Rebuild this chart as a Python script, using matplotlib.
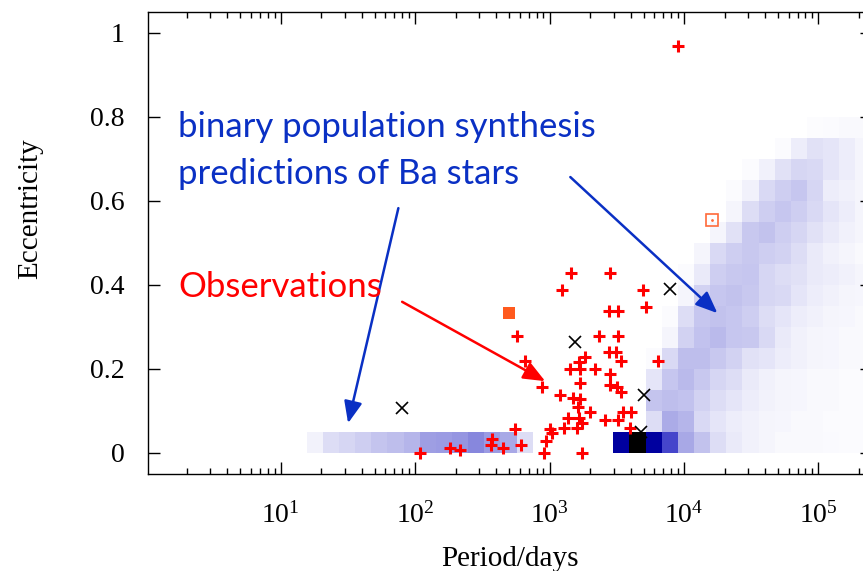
import numpy as np
import matplotlib
matplotlib.use("Agg")
import matplotlib.pyplot as plt
from matplotlib.colors import LinearSegmentedColormap

plt.rcParams['font.family'] = 'serif'
plt.rcParams['font.serif'] = ['Liberation Serif', 'DejaVu Serif']
plt.rcParams['mathtext.fontset'] = 'custom'
plt.rcParams['mathtext.rm'] = 'Liberation Serif'
plt.rcParams['mathtext.it'] = 'Liberation Serif:italic'

# population synthesis grid: log10(P) bins of 0.12 dex starting at 1.194, e bins of 0.05
logp_start = 1.194
logp_step = 0.12
n_logp = 35
ecc_edges = np.linspace(0.0, 0.8, 17)

# bottom row, short periods (bins 0..13)
left_strip = [0.06, 0.16, 0.19, 0.23, 0.27, 0.30, 0.34, 0.43, 0.44, 0.46, 0.50, 0.44, 0.40, 0.16]

# long period block (bins 19..34), rows from e=0 upwards
right_block = [
    [0.85, 1.00, 0.85, 0.70, 0.40, 0.285, 0.16, 0.10, 0.07, 0.05, 0.03, 0.03, 0.03, 0.025, 0.02, 0.02],
    [0, 0, 0.16, 0.39, 0.34, 0.175, 0.12, 0.083, 0.07, 0.05, 0.04, 0.03, 0.03, 0.02, 0.02, 0.02],
    [0, 0, 0.27, 0.30, 0.28, 0.21, 0.16, 0.12, 0.083, 0.06, 0.05, 0.04, 0.03, 0.03, 0.02, 0.02],
    [0, 0, 0.12, 0.265, 0.32, 0.25, 0.19, 0.16, 0.10, 0.07, 0.05, 0.04, 0.03, 0.03, 0.02, 0.02],
    [0, 0, 0.023, 0.175, 0.30, 0.30, 0.25, 0.21, 0.14, 0.12, 0.083, 0.07, 0.05, 0.04, 0.03, 0.03],
    [0, 0, 0, 0.05, 0.21, 0.28, 0.32, 0.265, 0.25, 0.175, 0.10, 0.07, 0.05, 0.04, 0.03, 0.03],
    [0, 0, 0, 0.023, 0.16, 0.265, 0.285, 0.265, 0.23, 0.16, 0.12, 0.083, 0.07, 0.05, 0.04, 0.03],
    [0, 0, 0, 0, 0.05, 0.21, 0.265, 0.285, 0.25, 0.19, 0.175, 0.12, 0.083, 0.07, 0.05, 0.04],
    [0, 0, 0, 0, 0.023, 0.10, 0.23, 0.25, 0.265, 0.19, 0.16, 0.14, 0.10, 0.083, 0.07, 0.05],
    [0, 0, 0, 0, 0, 0.05, 0.175, 0.23, 0.25, 0.23, 0.21, 0.16, 0.10, 0.07, 0.05, 0.03],
    [0, 0, 0, 0, 0, 0, 0.05, 0.14, 0.25, 0.285, 0.23, 0.19, 0.14, 0.10, 0.07, 0.05],
    [0, 0, 0, 0, 0, 0, 0, 0.05, 0.16, 0.23, 0.265, 0.23, 0.175, 0.12, 0.083, 0.05],
    [0, 0, 0, 0, 0, 0, 0, 0.023, 0.07, 0.175, 0.23, 0.265, 0.19, 0.083, 0.07, 0.05],
    [0, 0, 0, 0, 0, 0, 0, 0, 0.023, 0.07, 0.14, 0.19, 0.175, 0.12, 0.083, 0.05],
    [0, 0, 0, 0, 0, 0, 0, 0, 0, 0, 0.023, 0.083, 0.14, 0.12, 0.083, 0.05],
    [0, 0, 0, 0, 0, 0, 0, 0, 0, 0, 0, 0, 0.015, 0.023, 0.03, 0.03],
]
right_first_bin = 19

# observed Ba stars (period in days, eccentricity)
obs_period = [109, 182, 216, 373, 368, 450, 549, 615, 572, 659, 878, 902, 945, 1000,
              1042, 1202, 1237, 1271, 1361, 1426, 1452, 1494, 1600, 1630, 1644, 1644,
              1674, 1693, 1693, 1742, 1742, 1845, 1986, 2190, 2345, 2600, 2750, 2750,
              2832, 2832, 2832, 3140, 3177, 3210, 3210, 3210, 3400, 3400, 3520, 3990,
              4040, 4930, 5250, 6410, 8980]
obs_ecc = [0.0, 0.013, 0.007, 0.033, 0.019, 0.011, 0.058, 0.019, 0.279, 0.219, 0.158,
           0.0, 0.029, 0.058, 0.048, 0.138, 0.388, 0.059, 0.083, 0.199, 0.428, 0.130,
           0.059, 0.110, 0.083, 0.217, 0.128, 0.199, 0.167, 0.071, 0.0, 0.228, 0.098,
           0.199, 0.279, 0.079, 0.338, 0.240, 0.428, 0.188, 0.162, 0.240, 0.158, 0.338,
           0.279, 0.079, 0.219, 0.146, 0.098, 0.059, 0.098, 0.388, 0.348, 0.219, 0.970]

# other objects
x_period = [80, 1553, 7830, 5070, 4790]
x_ecc = [0.106, 0.265, 0.390, 0.138, 0.051]
sq_period = [499]
sq_ecc = [0.334]
open_sq_period = [16200]
open_sq_ecc = [0.555]

# annotation arrows (period, ecc)
arrow_pred_left = ((75, 0.583), (31.7, 0.071))
arrow_pred_right = ((1426, 0.657), (17700, 0.333))
arrow_obs = ((80, 0.36), (927, 0.171))

# build grid
logp_edges = logp_start + logp_step * np.arange(n_logp + 1)
grid = np.zeros((len(ecc_edges) - 1, n_logp))
grid[0, :len(left_strip)] = left_strip
rb = np.array(right_block)
grid[:, right_first_bin:right_first_bin + rb.shape[1]] = rb
grid = np.ma.masked_where(grid <= 0, grid)

cmap = LinearSegmentedColormap.from_list("wbk", [
    (0.0, (1.0, 1.0, 1.0)),
    (0.4, (168/255, 168/255, 230/255)),
    (0.7, (70/255, 70/255, 204/255)),
    (0.85, (0.0, 0.0, 160/255)),
    (1.0, (0.0, 0.0, 0.0)),
])

fig = plt.figure(figsize=(8.63, 5.71), dpi=100)
ax = fig.add_axes([148/863, 97/571, 724/863, 462/571])

ax.pcolormesh(10**logp_edges, ecc_edges, grid, cmap=cmap, vmin=0, vmax=1,
              shading="flat", antialiased=False, zorder=1)

ax.plot(obs_period, obs_ecc, ls="none", marker="+", color="#ff0000",
        markersize=8, mew=2.2, zorder=3)
ax.plot(x_period, x_ecc, ls="none", marker="x", color="black",
        markersize=8.5, mew=1.2, zorder=4)
ax.plot(sq_period, sq_ecc, ls="none", marker="s", color="#ff5a1e",
        markersize=8, mew=0, zorder=4)
ax.plot(open_sq_period, open_sq_ecc, ls="none", marker="s", mfc="none",
        mec="#ff6a3a", markersize=8.5, mew=1.2, zorder=4)
ax.plot(open_sq_period, open_sq_ecc, ls="none", marker=".", color="#ff6a3a",
        markersize=2, zorder=4)

blue = "#0a30c4"
astyle = "-|>,head_length=0.6,head_width=0.25"
for (start, end), col in [(arrow_pred_left, blue), (arrow_pred_right, blue), (arrow_obs, "#ff0000")]:
    ax.annotate("", xy=end, xytext=start,
                arrowprops=dict(arrowstyle=astyle, color=col, lw=1.8,
                                mutation_scale=22, shrinkA=0, shrinkB=0),
                zorder=5)

ax.text(1.72, 0.752, "binary population synthesis", color=blue, family="Lato",
        fontsize=25, va="baseline", ha="left", zorder=6)
ax.text(1.72, 0.640, "predictions of Ba stars", color=blue, family="Lato",
        fontsize=25, va="baseline", ha="left", zorder=6)
ax.text(1.72, 0.372, "Observations", color="#ff0000", family="Lato",
        fontsize=25, va="baseline", ha="left", zorder=6)

ax.set_xscale("log")
ax.set_xlim(1.03, 2.5e5)
ax.set_ylim(-0.05, 1.05)
ax.set_yticks([0, 0.2, 0.4, 0.6, 0.8, 1.0])
ax.set_yticklabels(["0", "0.2", "0.4", "0.6", "0.8", "1"])
ax.set_xticks([1e1, 1e2, 1e3, 1e4, 1e5])

ax.tick_params(which="both", direction="in", top=True, right=True, width=1.0)
ax.tick_params(which="major", length=8.5)
ax.tick_params(which="minor", length=4)
ax.tick_params(axis="x", which="major", labelsize=20, pad=20)
ax.tick_params(axis="y", labelsize=20, pad=17)
ax.yaxis.set_minor_locator(matplotlib.ticker.NullLocator())
for s in ax.spines.values():
    s.set_linewidth(1.0)

ax.set_xlabel("Period/days", fontsize=21)
ax.set_ylabel("Eccentricity", fontsize=21)
ax.xaxis.set_label_coords(0.5, -0.156)
ax.yaxis.set_label_coords(-0.145, 0.574)

plt.savefig("out.png", dpi=100)
plt.close()
